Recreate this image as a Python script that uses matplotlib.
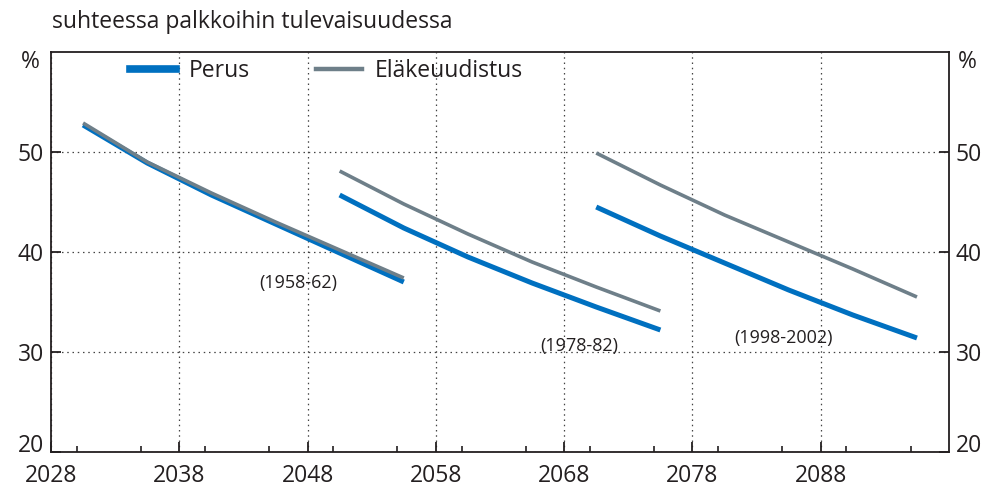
import matplotlib.pyplot as plt
from matplotlib.ticker import MultipleLocator

plt.rcParams['font.family'] = ['Open Sans', 'DejaVu Sans']

# vuodet ja arvot kohorteittain (5 v välein)
years_1 = [2030.5, 2035.5, 2040.5, 2045.5, 2050.5, 2055.5]
perus_1 = [52.7, 48.9, 45.7, 42.8, 39.9, 37.0]
uudistus_1 = [52.9, 49.0, 45.9, 43.0, 40.2, 37.4]

years_2 = [2050.5, 2055.5, 2060.5, 2065.5, 2070.5, 2075.5]
perus_2 = [45.7, 42.4, 39.5, 36.9, 34.5, 32.2]
uudistus_2 = [48.1, 44.8, 41.8, 39.0, 36.5, 34.1]

years_3 = [2070.5, 2075.5, 2080.5, 2085.5, 2090.5, 2095.5]
perus_3 = [44.5, 41.6, 38.9, 36.2, 33.7, 31.4]
uudistus_3 = [49.9, 46.7, 43.7, 41.0, 38.3, 35.5]

cohorts = ['(1958-62)', '(1978-82)', '(1998-2002)']
cohort_pos = [(2047.3, 36.9), (2069.2, 30.6), (2085.1, 31.4)]

blue = '#0070C0'
grey = '#6E7F89'
ink = '#231F20'

fig = plt.figure(figsize=(9.92, 4.88), dpi=100)
ax = fig.add_axes([0.0514, 0.0738, 0.9053, 0.8196])

for yrs, p, u in [(years_1, perus_1, uudistus_1),
                  (years_2, perus_2, uudistus_2),
                  (years_3, perus_3, uudistus_3)]:
    ax.plot(yrs, p, color=blue, lw=3.6, solid_capstyle='butt')
    ax.plot(yrs, u, color=grey, lw=2.6, solid_capstyle='butt')

for lab, (x, y) in zip(cohorts, cohort_pos):
    ax.text(x, y, lab, ha='center', va='center', fontsize=13, color=ink)

ax.set_xlim(2028, 2098)
ax.set_ylim(20, 60)
ax.set_xticks(range(2028, 2089, 10))
ax.xaxis.set_minor_locator(MultipleLocator(5))
ax.set_yticks([20, 30, 40, 50])

ax.tick_params(axis='both', which='major', direction='in', length=7,
               width=1.3, labelsize=16.5, colors=ink, pad=5)
ax.tick_params(axis='x', which='major', pad=9)
ax.tick_params(axis='x', which='minor', direction='in', length=4,
               width=1.2, colors=ink)
ax.tick_params(axis='y', which='both', right=True, labelright=True)
ax.tick_params(axis='x', which='both', top=False)

# alin y-tunnus hieman ylemmäs, ettei osu vuosilukuihin
first = ax.yaxis.get_major_ticks()[0]
first.label1.set_va('baseline')
first.label2.set_va('baseline')

for s in ax.spines.values():
    s.set_color(ink)
    s.set_linewidth(1.3)

ax.grid(True, which='major', color='#444444', linestyle=(0, (1.2, 3)),
        linewidth=0.9)

# legenda
ax.plot([], [], color=blue, lw=5.5, label='Perus')
ax.plot([], [], color=grey, lw=3.2, label='Eläkeuudistus')
handles, labels = ax.get_legend_handles_labels()
ax.legend(handles[-2:], labels[-2:], loc='upper left', ncol=2, frameon=False,
          fontsize=16.5, bbox_to_anchor=(0.065, 1.035), handlelength=2.0,
          columnspacing=2.9, handletextpad=0.55, labelcolor=ink)

fig.text(0.052, 0.955, 'suhteessa palkkoihin tulevaisuudessa', fontsize=16.5,
         color=ink, ha='left', va='center')
fig.text(0.021, 0.872, '%', fontsize=16.5, color=ink, ha='left', va='center')
fig.text(0.966, 0.872, '%', fontsize=16.5, color=ink, ha='left', va='center')

fig.savefig('out.png', dpi=100)
